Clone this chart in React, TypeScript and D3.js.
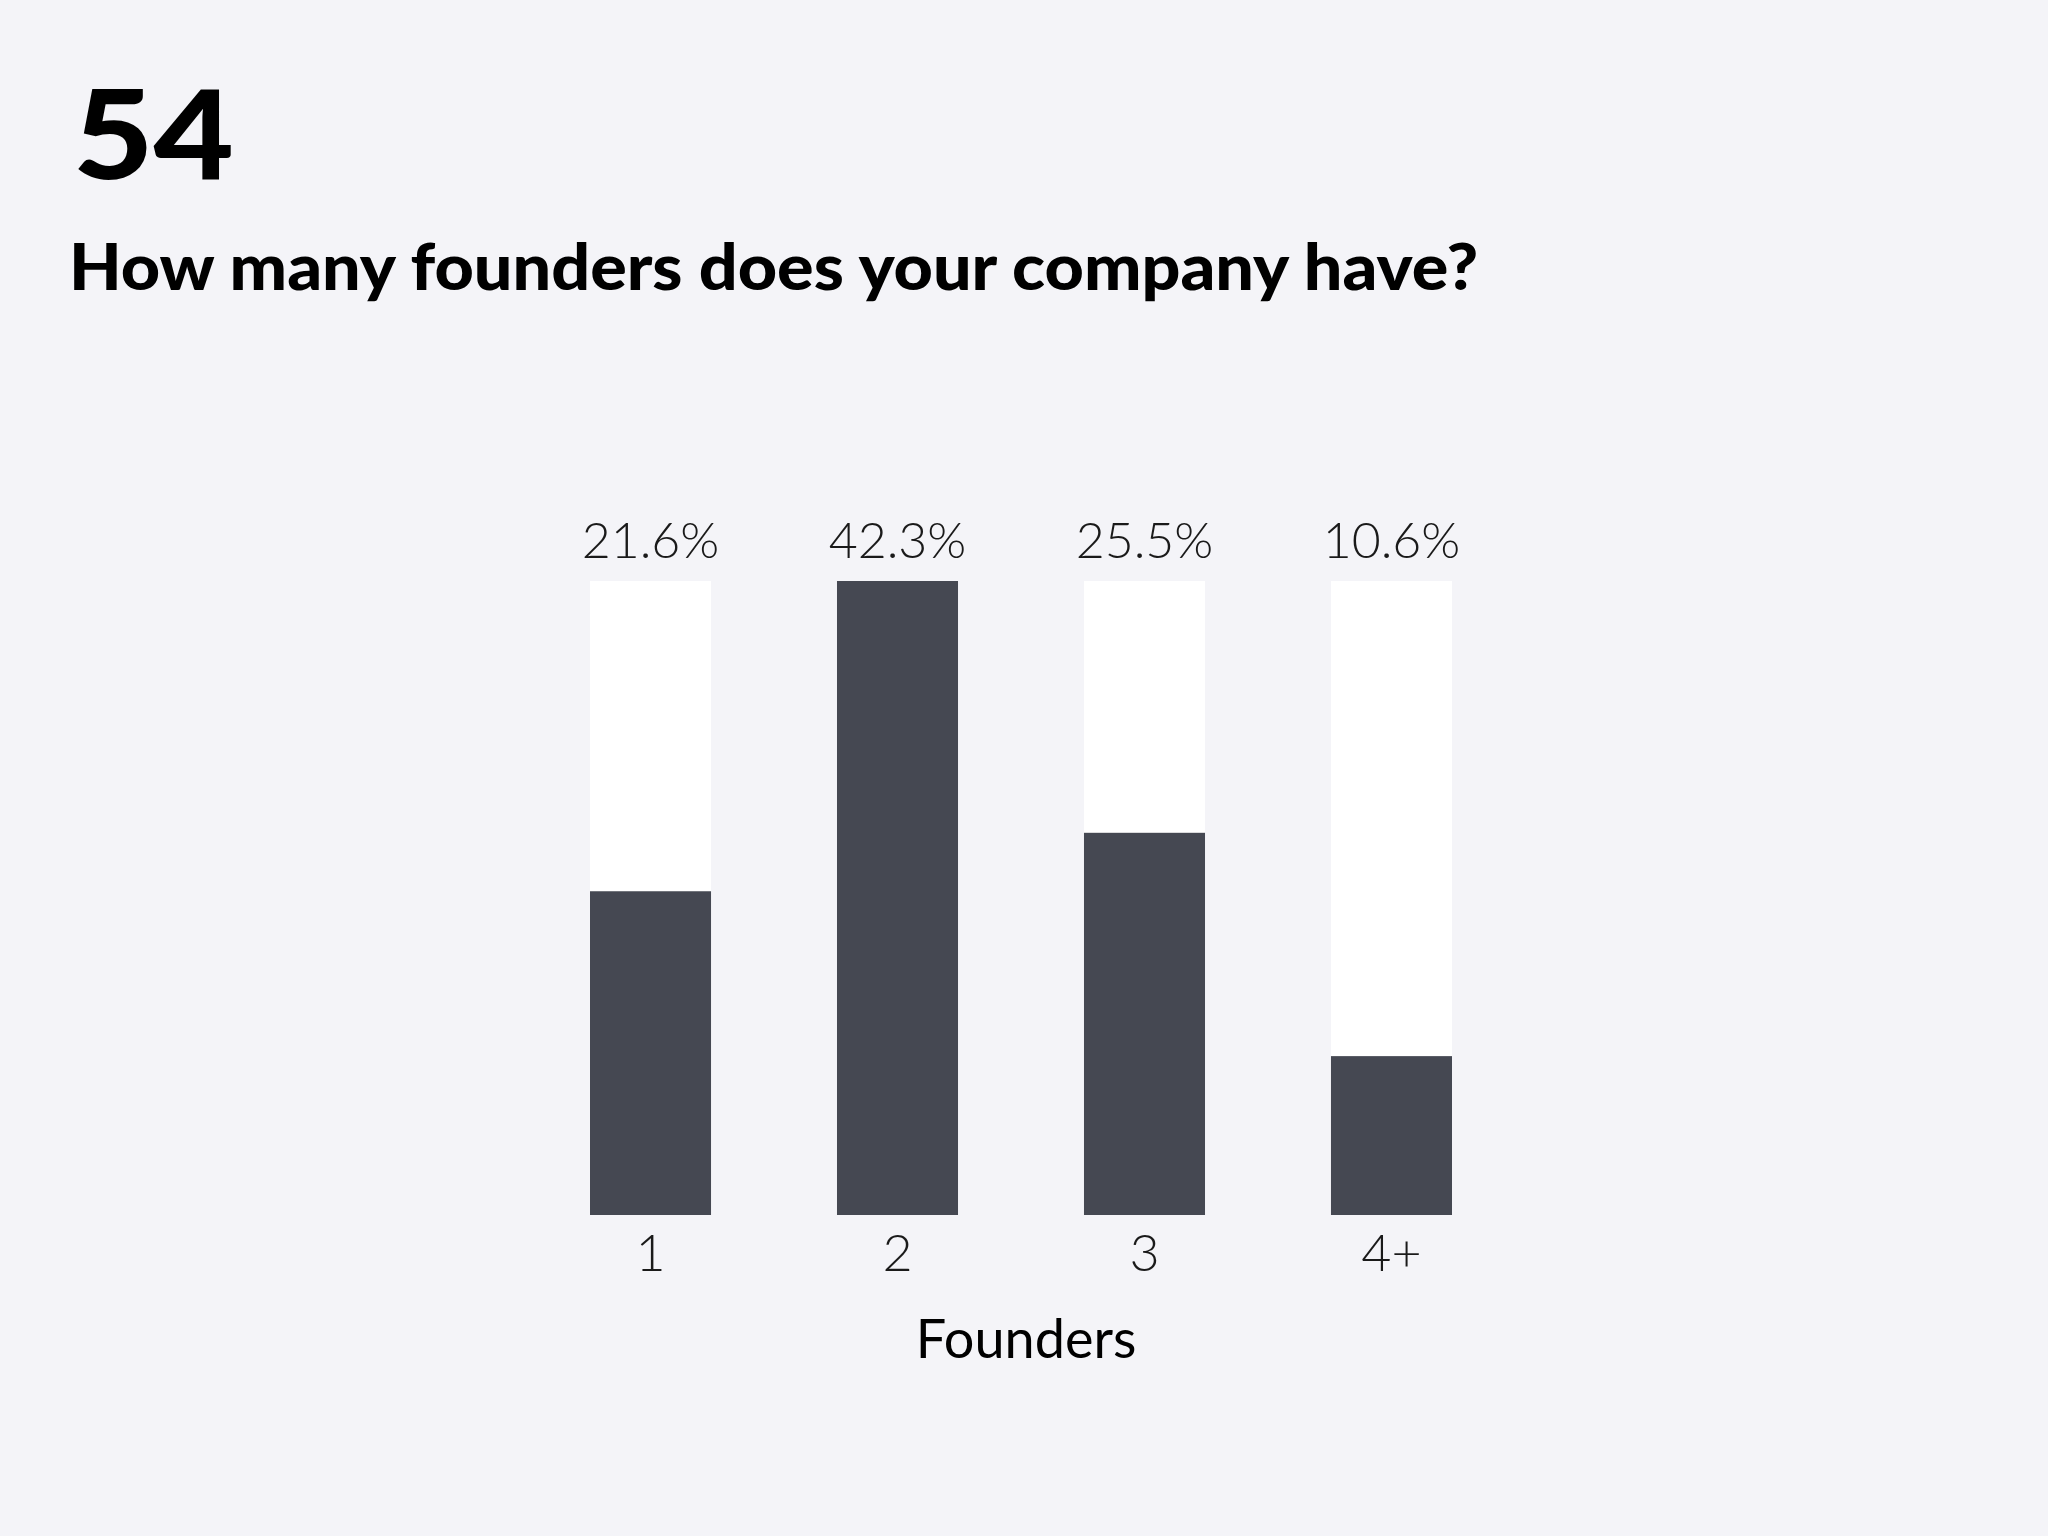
import { useEffect, useRef } from "react";
import * as d3 from "d3";

const categories = ["1", "2", "3", "4+"];
const shares = [21.6, 42.3, 25.5, 10.6];
const figureNumber = "54";
const question = "How many founders does your company have?";
const axisTitle = "Founders";

const W = 2048;
const H = 1536;

export default function App() {
  const svgRef = useRef<SVGSVGElement>(null);

  useEffect(() => {
    if (!svgRef.current) return;
    const svg = d3.select(svgRef.current);
    svg.selectAll("*").remove();

    svg.append("rect").attr("width", W).attr("height", H).attr("fill", "#f4f4f8");

    // heading, stretched a bit to match the wider geometric face
    svg.append("text")
      .attr("transform", "translate(73,179) scale(1.12,1)")
      .attr("font-family", "Lato, sans-serif")
      .attr("font-weight", 900)
      .attr("font-size", 124)
      .attr("fill", "#000")
      .text(figureNumber);

    svg.append("text")
      .attr("transform", "translate(69,290) scale(1.05,1)")
      .attr("font-family", "Lato, sans-serif")
      .attr("font-weight", 900)
      .attr("font-size", 65)
      .attr("fill", "#000")
      .text(question);

    const left = 590, right = 1452, top = 581, bottom = 1215;

    const x = d3.scaleBand<string>()
      .domain(categories)
      .range([left, right])
      .paddingInner(0.51)
      .paddingOuter(0);

    const y = d3.scaleLinear()
      .domain([0, d3.max(shares) ?? 1])
      .range([bottom, top]);

    const g = svg.append("g");
    const rows = categories.map((c, i) => ({ c, v: shares[i] }));

    // white track behind each bar
    g.selectAll("rect.track")
      .data(rows)
      .enter()
      .append("rect")
      .attr("class", "track")
      .attr("x", d => x(d.c)!)
      .attr("y", top)
      .attr("width", x.bandwidth())
      .attr("height", bottom - top)
      .attr("fill", "#ffffff");

    g.selectAll("rect.bar")
      .data(rows)
      .enter()
      .append("rect")
      .attr("class", "bar")
      .attr("x", d => x(d.c)!)
      .attr("y", d => y(d.v))
      .attr("width", x.bandwidth())
      .attr("height", d => bottom - y(d.v))
      .attr("fill", "#454852");

    g.selectAll("text.val")
      .data(rows)
      .enter()
      .append("text")
      .attr("class", "val")
      .attr("x", d => x(d.c)! + x.bandwidth() / 2)
      .attr("y", 558)
      .attr("text-anchor", "middle")
      .attr("font-family", "Lato, sans-serif")
      .attr("font-weight", 300)
      .attr("font-size", 50)
      .attr("fill", "#1a1a1a")
      .text(d => `${d.v.toFixed(1)}%`);

    g.selectAll("text.cat")
      .data(rows)
      .enter()
      .append("text")
      .attr("class", "cat")
      .attr("x", d => x(d.c)! + x.bandwidth() / 2)
      .attr("y", 1271)
      .attr("text-anchor", "middle")
      .attr("font-family", "Lato, sans-serif")
      .attr("font-weight", 300)
      .attr("font-size", 52)
      .attr("fill", "#1a1a1a")
      .text(d => d.c);

    svg.append("text")
      .attr("x", (left + right) / 2 + 5)
      .attr("y", 1358)
      .attr("text-anchor", "middle")
      .attr("font-family", "Lato, sans-serif")
      .attr("font-weight", 400)
      .attr("font-size", 54)
      .attr("fill", "#000")
      .text(axisTitle);
  }, []);

  return (
    <svg
      ref={svgRef}
      width={W}
      height={H}
      style={{ position: "absolute", left: 0, top: 0, display: "block" }}
    />
  );
}
